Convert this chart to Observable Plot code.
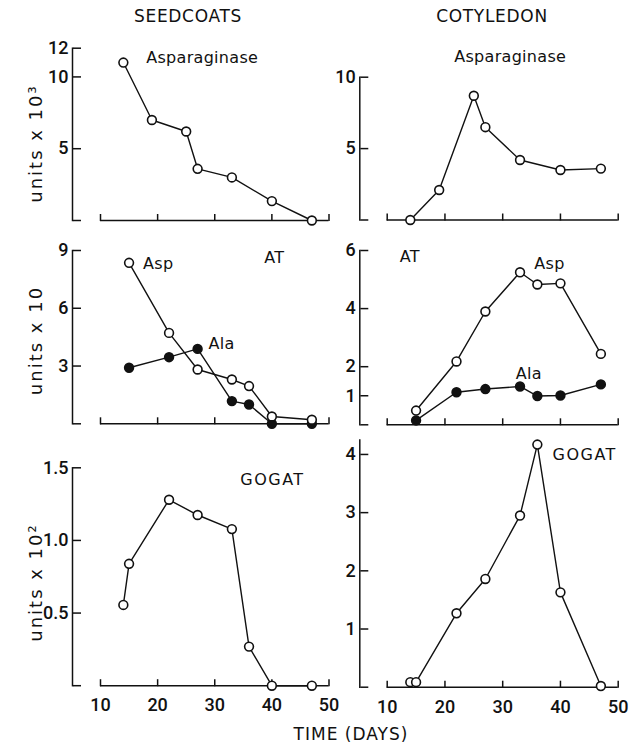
<!DOCTYPE html>
<html><head><meta charset="utf-8">
<script src="https://cdn.jsdelivr.net/npm/d3@7"></script>
<script src="https://cdn.jsdelivr.net/npm/@observablehq/plot@0.6"></script>
<style>
body{margin:0;background:#fff;}
#fig{position:relative;width:640px;height:745px;background:#fff;font-family:"DejaVu Sans",sans-serif;color:#111;overflow:hidden;}
.ttl{position:absolute;font-size:17px;letter-spacing:0.7px;line-height:20px;transform:translateX(-50%);white-space:pre;}
.panel{position:absolute;}
.panel svg{overflow:visible;}
</style></head><body><div id="fig"></div>
<script>
// ---- data ----
const xTicks = [10, 20, 30, 40, 50];
const daysAsparaginase = [14, 19, 25, 27, 33, 40, 47];
const seedAsparaginase = [11.0, 7.0, 6.2, 3.6, 3.0, 1.35, 0.0];      // units x 10^3
const cotAsparaginase  = [0.0, 2.1, 8.7, 6.5, 4.2, 3.5, 3.6];        // units x 10^3
const daysAT = [15, 22, 27, 33, 36, 40, 47];
const seedAsp = [8.36, 4.72, 2.82, 2.30, 1.96, 0.38, 0.21];          // units x 10
const seedAla = [2.91, 3.46, 3.89, 1.18, 1.0, 0.0, 0.0];
const cotAsp  = [0.49, 2.18, 3.90, 5.25, 4.83, 4.87, 2.44];
const cotAla  = [0.15, 1.12, 1.23, 1.32, 0.99, 1.01, 1.39];
const daysGOGAT = [14, 15, 22, 27, 33, 36, 40, 47];
const seedGOGAT = [0.556, 0.839, 1.28, 1.175, 1.078, 0.269, 0.0, 0.0]; // units x 10^2
const cotGOGAT  = [0.086, 0.086, 1.27, 1.86, 2.95, 4.17, 1.63, 0.02];
const columnTitles = ["SEEDCOATS", "COTYLEDON"];
const xTitle = "TIME (DAYS)";

// ---- layout ----
const ink = "#111";
const cols = [
  {left: 0, width: 336, axis: 72, x10: 100, x50: 328.5},
  {left: 336, width: 304, axis: 359.3, x10: 386.7, x50: 617.7}
];
const rows = [{top: 30, height: 200}, {top: 230, height: 202}, {top: 432, height: 290}];

const tbl = (days, vals) => days.map((d, i) => ({day: d, v: vals[i]}));

const panels = [
  {col: 0, row: 0, y0: 220, yTopPx: 47.7, yMax: 12, tickLabels: [5, 10, 12], tickMarks: [0, 5, 10, 12],
   series: [{data: tbl(daysAsparaginase, seedAsparaginase), filled: false}],
   notes: [{t: "Asparaginase", x: 27.8, y: 11.35}], yLabel: "units x 10³", yLabelC: 143},
  {col: 1, row: 0, y0: 219.5, yTopPx: 76.7, yMax: 10, tickLabels: [5, 10], tickMarks: [0, 5, 10],
   series: [{data: tbl(daysAsparaginase, cotAsparaginase), filled: false}],
   notes: [{t: "Asparaginase", x: 31.3, y: 11.4}]},
  {col: 0, row: 1, y0: 423.3, yTopPx: 250, yMax: 9, tickLabels: [3, 6, 9], tickMarks: [0, 3, 6, 9],
   series: [{data: tbl(daysAT, seedAla), filled: true}, {data: tbl(daysAT, seedAsp), filled: false}],
   notes: [{t: "Asp", x: 20.1, y: 8.3}, {t: "AT", x: 40.4, y: 8.63}, {t: "Ala", x: 31.2, y: 4.15}],
   yLabel: "units x 10", yLabelC: 340},
  {col: 1, row: 1, y0: 424.3, yTopPx: 250, yMax: 6, tickLabels: [1, 2, 4, 6], tickMarks: [0, 1, 2, 4, 6],
   series: [{data: tbl(daysAT, cotAla), filled: true}, {data: tbl(daysAT, cotAsp), filled: false}],
   notes: [{t: "AT", x: 13.9, y: 5.77}, {t: "Asp", x: 38.1, y: 5.54}, {t: "Ala", x: 34.5, y: 1.76}]},
  {col: 0, row: 2, y0: 685.2, yTopPx: 467.3, yMax: 1.5, tickLabels: [0.5, 1.0, 1.5], tickMarks: [0, 0.5, 1.0, 1.5],
   fmt: d3.format(".1f"),
   series: [{data: tbl(daysGOGAT, seedGOGAT), filled: false}],
   notes: [{t: "GOGAT", x: 40.1, y: 1.42}], yLabel: "units x 10²", yLabelC: 582, xLabels: true},
  {col: 1, row: 2, y0: 686.7, yTopPx: 439.4, yMax: 4.25, tickLabels: [1, 2, 3, 4], tickMarks: [0, 1, 2, 3, 4],
   series: [{data: tbl(daysGOGAT, cotGOGAT), filled: false}],
   notes: [{t: "GOGAT", x: 44.2, y: 4.0}], xLabels: true}
];

const fig = document.getElementById("fig");
const tickFont = "Roboto, Liberation Sans, Arial, sans-serif";
const textFont = "DejaVu Sans, sans-serif";

for (const p of panels) {
  const C = cols[p.col], R = rows[p.row];
  const marginLeft = C.axis - C.left;
  const marginTop = p.yTopPx - R.top;
  const marginBottom = R.top + R.height - p.y0;
  const marks = [
    Plot.frame({anchor: "left", stroke: ink, strokeWidth: 1.5}),
    Plot.ruleY([0], {x1: xTicks[0], x2: xTicks[xTicks.length - 1], stroke: ink, strokeWidth: 1.5}),
    Plot.axisX({ticks: xTicks, anchor: "top", frameAnchor: "bottom", tickSize: 7, fill: "none", stroke: ink, strokeWidth: 1.5, label: null}),
    Plot.axisY({ticks: p.tickMarks, anchor: "right", frameAnchor: "left", tickSize: 8, fill: "none", stroke: ink, strokeWidth: 1.5, label: null}),
    Plot.axisY({ticks: p.tickLabels, tickSize: 0, tickPadding: 4, tickFormat: p.fmt || (d => String(d)), label: null,
                fill: ink, fontSize: 18, fontWeight: 500, fontFamily: tickFont})
  ];
  if (p.xLabels) {
    marks.push(Plot.axisX({ticks: xTicks, tickSize: 0, tickPadding: 13, label: null, fill: ink, fontSize: 18, fontWeight: 500, fontFamily: tickFont}));
  }
  for (const s of p.series) {
    marks.push(Plot.line(s.data, {x: "day", y: "v", stroke: ink, strokeWidth: 1.4}));
  }
  for (const s of p.series) {
    marks.push(Plot.dot(s.data, {x: "day", y: "v", r: 4.4, fill: s.filled ? ink : "white", stroke: ink, strokeWidth: 1.6}));
  }
  for (const n of p.notes) {
    marks.push(Plot.text([n.t], {x: n.x, y: n.y, text: d => d, fontSize: 16, fontFamily: textFont, fill: ink, textAnchor: "middle", lineAnchor: "middle"}));
  }
  if (p.yLabel) {
    marks.push(Plot.text([p.yLabel], {frameAnchor: "left", text: d => d, rotate: -90, fontSize: 18, fontFamily: textFont, fill: ink,
      dx: 36 - C.axis, dy: p.yLabelC - (p.yTopPx + p.y0) / 2, textAnchor: "middle", lineAnchor: "middle"}));
  }
  const svg = Plot.plot({
    width: C.width, height: R.height,
    marginLeft, marginTop, marginBottom, marginRight: 0,
    x: {domain: [xTicks[0], xTicks[xTicks.length - 1]], range: [C.x10 - C.left, C.x50 - C.left]},
    y: {domain: [0, p.yMax]},
    style: {background: "transparent", overflow: "visible", color: ink},
    marks
  });
  const noteSet = new Set(p.notes.map(n => n.t));
  d3.select(svg).selectAll("text").each(function () {
    const t = this.textContent;
    if (noteSet.has(t)) this.style.letterSpacing = t.length > 3 && t === t.toUpperCase() ? "1.5px" : "0.3px";
    if (t === p.yLabel) this.style.letterSpacing = "2px";
  });
  const div = document.createElement("div");
  div.className = "panel";
  div.style.left = C.left + "px";
  div.style.top = R.top + "px";
  div.appendChild(svg);
  fig.appendChild(div);
}

const titleCenters = [188, 492];
columnTitles.forEach((t, i) => {
  const d = document.createElement("div");
  d.className = "ttl";
  d.textContent = t;
  d.style.left = titleCenters[i] + "px";
  d.style.top = "6px";
  fig.appendChild(d);
});
const xt = document.createElement("div");
xt.className = "ttl";
xt.textContent = xTitle;
xt.style.left = "351px";
xt.style.top = "724px";
xt.style.letterSpacing = "1px";
fig.appendChild(xt);
</script></body></html>
